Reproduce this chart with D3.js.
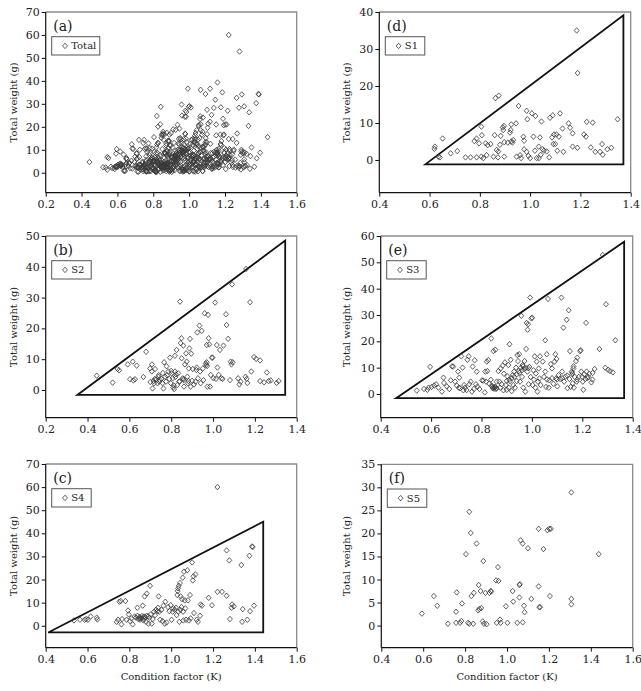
<!DOCTYPE html>
<html>
<head>
<meta charset="utf-8">
<script src="https://cdn.jsdelivr.net/npm/d3@7"></script>
<style>
body{margin:0;background:#fff;}
svg text{font-family:"DejaVu Serif",serif;fill:#222;}
</style>
</head>
<body>
<svg id="chart" width="641" height="691"></svg>
<script>
// condition factor K, total weight (g)
var s1 = [[0.621,3.6],[0.619,3.0],[0.635,0.9],[0.641,0.7],[0.652,5.8],[0.684,1.8],[0.710,2.4],[0.743,0.7],[0.763,0.7],[0.778,5.1],
	[0.787,5.8],[0.787,0.7],[0.797,4.5],[0.806,0.9],[0.806,9.0],[0.808,6.7],[0.814,0.5],[0.823,4.5],[0.827,1.3],[0.831,4.0],
	[0.843,4.3],[0.854,0.9],[0.859,6.7],[0.862,16.7],[0.867,2.7],[0.875,17.4],[0.872,0.7],[0.873,2.3],[0.880,4.1],[0.883,6.5],
	[0.891,8.8],[0.893,8.1],[0.896,9.2],[0.897,0.9],[0.897,4.8],[0.911,4.7],[0.920,7.4],[0.923,8.1],[0.925,9.6],[0.925,5.0],
	[0.930,4.7],[0.933,5.4],[0.944,9.9],[0.946,0.9],[0.954,14.6],[0.960,1.3],[0.964,0.5],[0.973,6.3],[0.976,5.2],[0.976,2.9],
	[0.986,13.3],[0.989,11.0],[0.986,2.2],[0.993,1.1],[1.000,0.5],[1.007,12.6],[1.013,6.3],[1.019,2.5],[1.021,11.9],[1.026,0.5],
	[1.035,0.5],[1.034,3.6],[1.039,6.1],[1.042,1.4],[1.045,10.4],[1.050,2.9],[1.055,2.5],[1.066,2.3],[1.076,0.7],[1.079,11.4],
	[1.087,6.1],[1.090,12.1],[1.092,4.3],[1.095,6.9],[1.100,4.3],[1.105,6.9],[1.108,2.5],[1.114,6.3],[1.119,12.6],[1.129,8.5],
	[1.132,2.2],[1.153,9.9],[1.159,8.7],[1.169,7.2],[1.169,3.6],[1.185,35.0],[1.188,3.3],[1.189,23.5],[1.214,6.9],[1.222,6.3],
	[1.225,10.3],[1.241,3.4],[1.249,10.1],[1.259,2.2],[1.278,2.2],[1.286,4.3],[1.289,1.4],[1.307,2.9],[1.323,3.3],[1.348,11.0]];

var s2 = [[0.444,4.65],[0.520,2.4],[0.543,6.8],[0.551,6.4],[0.592,8.3],[0.603,3.5],[0.616,9.2],[0.619,3.1],[0.627,3.5],[0.635,7.9],
	[0.667,4.2],[0.680,12.4],[0.699,7.0],[0.708,8.3],[0.707,6.0],[0.711,0.5],[0.715,2.9],[0.718,2.2],[0.723,6.8],[0.727,3.4],
	[0.734,2.2],[0.739,4.3],[0.743,2.7],[0.753,3.6],[0.759,2.2],[0.763,0.5],[0.766,9.0],[0.771,4.3],[0.775,2.7],[0.778,7.7],
	[0.786,6.0],[0.791,3.6],[0.794,10.5],[0.798,2.2],[0.802,5.4],[0.807,3.8],[0.810,0.8],[0.814,0.3],[0.818,11.1],[0.818,6.0],
	[0.823,5.1],[0.826,13.0],[0.829,1.6],[0.834,5.4],[0.839,2.7],[0.842,28.7],[0.845,15.2],[0.849,16.8],[0.850,10.3],[0.855,3.8],
	[0.858,3.6],[0.858,14.4],[0.861,1.1],[0.866,8.3],[0.871,11.9],[0.874,9.2],[0.877,4.3],[0.882,2.9],[0.884,7.0],[0.887,13.5],
	[0.890,16.6],[0.893,1.1],[0.896,11.8],[0.903,6.8],[0.909,1.8],[0.916,2.7],[0.922,7.3],[0.925,18.7],[0.928,3.8],[0.935,20.9],
	[0.938,6.0],[0.941,2.2],[0.946,19.2],[0.951,7.0],[0.954,3.2],[0.960,24.9],[0.967,8.1],[0.970,14.6],[0.970,9.0],[0.973,1.1],
	[0.976,24.4],[0.979,16.8],[0.982,14.8],[0.986,1.1],[0.989,4.9],[0.994,10.5],[0.998,10.5],[1.002,3.8],[1.010,28.4],[1.014,3.6],
	[1.018,14.6],[1.021,7.3],[1.027,4.9],[1.033,13.0],[1.040,3.8],[1.046,3.6],[1.050,14.4],[1.062,24.6],[1.065,21.1],[1.072,16.6],
	[1.081,3.2],[1.084,9.2],[1.088,8.3],[1.091,34.3],[1.094,9.0],[1.120,3.8],[1.126,1.8],[1.132,2.7],[1.155,4.3],[1.158,39.3],
	[1.161,3.6],[1.164,2.3],[1.177,28.5],[1.183,6.0],[1.196,10.7],[1.206,10.1],[1.225,9.6],[1.225,2.9],[1.244,2.5],[1.257,5.7],
	[1.266,2.9],[1.276,3.1],[1.304,2.3],[1.314,2.9],[0.720,3.5],[0.740,4.8],[0.760,5.5],[0.780,4.8],[0.800,6.2],[0.820,4.2],
	[0.840,2.8],[0.860,3.2],[0.880,2.2],[0.900,3.0],[0.920,6.5],[0.965,8.6],[0.972,7.8],[0.700,2.6],[0.745,3.3],[0.812,1.5]];

var s3 = [[0.543,1.3],[0.572,1.9],[0.585,1.6],[0.596,10.3],[0.590,2.4],[0.602,2.7],[0.612,3.2],[0.620,3.7],[0.629,2.4],[0.643,0.9],
	[0.649,6.2],[0.651,4.2],[0.662,2.9],[0.672,1.9],[0.678,5.2],[0.683,10.5],[0.688,10.4],[0.695,4.7],[0.702,3.2],[0.707,8.5],
	[0.710,2.4],[0.712,6.2],[0.715,2.2],[0.720,14.3],[0.725,10.0],[0.728,1.4],[0.731,3.4],[0.735,2.4],[0.741,1.5],[0.744,13.0],
	[0.749,14.3],[0.752,3.7],[0.757,4.7],[0.762,0.9],[0.765,10.4],[0.770,1.9],[0.773,12.8],[0.778,3.7],[0.781,8.5],[0.784,2.8],
	[0.792,1.9],[0.802,5.2],[0.807,5.1],[0.813,0.6],[0.815,8.5],[0.818,4.7],[0.821,12.3],[0.823,8.7],[0.827,12.9],[0.831,3.9],
	[0.837,5.4],[0.839,21.1],[0.842,2.9],[0.844,2.2],[0.847,16.3],[0.852,2.7],[0.855,16.8],[0.858,1.9],[0.860,4.7],[0.867,8.7],
	[0.871,4.7],[0.874,2.4],[0.876,9.7],[0.880,3.7],[0.884,10.8],[0.887,1.4],[0.889,7.7],[0.893,12.0],[0.897,3.4],[0.900,1.6],
	[0.903,6.7],[0.907,11.0],[0.908,2.4],[0.911,18.9],[0.913,4.9],[0.916,13.0],[0.920,1.1],[0.924,7.2],[0.926,3.4],[0.929,8.5],
	[0.933,2.4],[0.937,10.0],[0.940,4.9],[0.942,14.8],[0.945,12.5],[0.948,8.7],[0.950,15.1],[0.953,4.7],[0.956,10.0],[0.958,29.7],
	[0.961,6.5],[0.963,11.0],[0.966,2.4],[0.969,9.5],[0.971,12.5],[0.974,0.9],[0.977,17.1],[0.979,27.0],[0.982,8.5],[0.983,24.4],
	[0.985,26.5],[0.987,3.7],[0.990,10.3],[0.993,36.6],[0.995,6.5],[0.998,28.7],[1.001,29.0],[1.003,3.4],[1.006,9.0],[1.008,5.4],
	[1.011,14.3],[1.014,2.4],[1.016,7.8],[1.019,12.3],[1.022,0.9],[1.024,4.7],[1.027,9.7],[1.030,5.9],[1.032,14.3],[1.035,3.4],
	[1.043,12.3],[1.048,6.5],[1.053,8.5],[1.053,20.4],[1.056,2.7],[1.059,15.1],[1.064,36.1],[1.067,2.4],[1.069,5.2],[1.075,11.3],
	[1.080,9.7],[1.085,3.9],[1.090,12.3],[1.093,15.1],[1.096,5.9],[1.098,13.3],[1.101,2.9],[1.106,7.2],[1.112,5.7],[1.117,36.6],
	[1.120,8.5],[1.125,25.2],[1.128,4.7],[1.133,6.6],[1.138,28.2],[1.141,2.2],[1.146,31.8],[1.149,5.7],[1.151,16.3],[1.154,2.7],
	[1.158,8.5],[1.162,4.1],[1.165,9.7],[1.167,2.4],[1.170,6.5],[1.175,12.5],[1.178,4.7],[1.180,13.8],[1.186,6.5],[1.191,16.3],
	[1.194,16.6],[1.196,8.5],[1.202,4.7],[1.204,1.6],[1.207,7.5],[1.212,5.7],[1.215,27.0],[1.217,8.5],[1.223,6.5],[1.228,7.7],
	[1.236,4.4],[1.241,8.0],[1.249,9.5],[1.268,17.1],[1.281,52.8],[1.291,10.0],[1.294,34.1],[1.302,9.2],[1.310,8.7],[1.321,8.2],
	[1.331,20.4],[0.845,2.5],[0.850,2.0],[0.855,2.6],[0.840,3.2],[0.860,2.2],[0.940,7.5],[0.950,8.0],[0.960,9.0],[0.965,10.5],
	[0.975,10.0],[0.985,9.8],[0.930,6.5],[0.920,6.0],[0.910,5.5],[0.900,5.0],[1.060,5.5],[1.080,6.0],[1.100,5.5],[1.120,6.0],
	[1.140,7.0],[1.160,8.0],[1.180,5.5],[1.200,6.5],[1.220,6.0],[1.240,5.5],[1.160,7.5],[1.165,10.5]];

var s4 = [[0.535,2.3],[0.564,2.6],[0.586,2.6],[0.593,2.9],[0.602,2.6],[0.615,4.0],[0.644,3.5],[0.647,2.7],[0.739,1.7],[0.746,2.6],
	[0.752,10.4],[0.759,10.7],[0.762,0.6],[0.765,2.9],[0.781,10.7],[0.787,2.6],[0.794,6.6],[0.797,4.9],[0.803,2.0],[0.810,3.2],
	[0.816,0.6],[0.825,4.0],[0.832,3.5],[0.838,7.8],[0.838,4.3],[0.843,2.9],[0.848,3.8],[0.851,2.6],[0.859,3.2],[0.864,8.7],
	[0.867,2.3],[0.870,4.0],[0.873,12.7],[0.880,1.7],[0.883,13.9],[0.883,4.3],[0.891,0.9],[0.896,3.5],[0.899,17.3],[0.902,4.9],
	[0.907,0.9],[0.912,2.9],[0.918,6.1],[0.923,4.6],[0.927,6.9],[0.934,6.3],[0.937,7.8],[0.940,12.7],[0.943,6.1],[0.947,2.6],
	[0.953,6.9],[0.959,2.0],[0.963,8.7],[0.969,0.9],[0.972,10.4],[0.978,1.4],[0.985,8.1],[0.991,6.3],[0.998,8.9],[1.002,2.6],
	[1.007,6.1],[1.010,7.5],[1.017,6.9],[1.023,7.8],[1.026,4.6],[1.029,13.3],[1.031,15.0],[1.033,16.2],[1.034,6.1],[1.036,17.3],
	[1.039,1.7],[1.042,18.5],[1.044,6.9],[1.045,12.7],[1.049,8.1],[1.052,11.5],[1.055,20.8],[1.057,6.1],[1.058,2.3],[1.061,23.4],
	[1.065,11.0],[1.068,7.5],[1.071,2.6],[1.077,24.0],[1.080,11.0],[1.084,2.3],[1.090,13.3],[1.093,3.2],[1.100,27.4],[1.103,19.6],
	[1.106,21.4],[1.109,5.5],[1.116,22.2],[1.122,2.6],[1.128,1.7],[1.138,4.3],[1.141,9.2],[1.147,8.7],[1.179,12.1],[1.195,8.9],
	[1.221,60.0],[1.221,14.7],[1.243,14.7],[1.265,13.0],[1.265,32.6],[1.278,28.3],[1.281,2.9],[1.288,7.8],[1.291,9.2],[1.300,8.4],
	[1.335,26.3],[1.339,1.7],[1.342,7.2],[1.364,2.6],[1.374,30.3],[1.377,6.3],[1.386,34.3],[1.390,34.1],[1.396,8.7],
	[0.850,3.2],[0.860,4.2],[0.870,3.0],[0.875,3.8],[0.890,4.0]];

var s5 = [[0.594,2.6],[0.651,6.4],[0.667,4.3],[0.718,0.4],[0.757,3.0],[0.757,0.6],[0.760,7.2],[0.776,0.6],[0.782,1.0],[0.785,4.8],
	[0.804,15.5],[0.814,0.6],[0.820,24.7],[0.820,0.4],[0.827,20.1],[0.830,6.4],[0.839,0.4],[0.842,7.1],[0.855,17.8],[0.862,3.3],
	[0.865,8.8],[0.868,3.6],[0.874,7.5],[0.877,3.8],[0.884,0.9],[0.887,14.0],[0.890,0.4],[0.897,7.1],[0.903,0.3],[0.916,7.1],
	[0.922,7.5],[0.925,7.4],[0.948,9.8],[0.951,0.6],[0.957,12.7],[0.960,9.7],[0.967,1.3],[0.970,0.6],[0.995,4.2],[1.002,0.6],
	[1.027,7.5],[1.030,5.2],[1.049,0.6],[1.059,8.8],[1.059,6.1],[1.062,9.0],[1.065,18.5],[1.075,17.8],[1.075,0.7],[1.081,4.3],
	[1.084,2.9],[1.100,16.8],[1.116,5.8],[1.151,21.0],[1.151,8.5],[1.154,4.0],[1.158,4.0],[1.174,16.6],[1.193,20.7],[1.202,21.0],
	[1.205,6.4],[1.209,21.0],[1.307,28.9],[1.307,5.8],[1.307,4.6],[1.438,15.5]];

// all sites together
var total = s1.concat(s2, s3, s4, s5);

// boundary triangles [K, W]
var triS1 = [[0.583,-1.2],[1.371,39.1],[1.371,-1.2]];
var triS2 = [[0.351,-1.6],[1.345,48.5],[1.345,-1.6]];
var triS3 = [[0.461,-1.6],[1.366,57.8],[1.366,-1.6]];
var triS4 = [[0.412,-2.9],[1.440,45.0],[1.440,-2.9]];

var xTicksA = [0.2,0.4,0.6,0.8,1.0,1.2,1.4,1.6];
var xTicksB = [0.2,0.4,0.6,0.8,1.0,1.2,1.4];
var xTicksD = [0.4,0.6,0.8,1.0,1.2,1.4];
var xTicksC = [0.4,0.6,0.8,1.0,1.2,1.4,1.6];
var yTicksA = [0,10,20,30,40,50,60,70];
var yTicksD = [0,10,20,30,40];
var yTicksB = [0,10,20,30,40,50];
var yTicksE = [0,10,20,30,40,50,60];
var yTicksF = [0,5,10,15,20,25,30,35];

var panels = [
	{tag:"(a)", name:"Total", data:total, tri:null,  xd:[0.2,1.6], yd:[-8.7,70],  xt:xTicksA, yt:yTicksA, b:[45.7,296.7,12,192.7], col:0, xlab:false},
	{tag:"(d)", name:"S1",    data:s1,    tri:triS1, xd:[0.4,1.4], yd:[-8.85,40], xt:xTicksD, yt:yTicksD, b:[379.3,630.7,12,192.7], col:1, xlab:false},
	{tag:"(b)", name:"S2",    data:s2,    tri:triS2, xd:[0.2,1.4], yd:[-9,50],    xt:xTicksB, yt:yTicksB, b:[45.7,296.7,236,417.7], col:0, xlab:false},
	{tag:"(e)", name:"S3",    data:s3,    tri:triS3, xd:[0.4,1.4], yd:[-9,60],    xt:xTicksD, yt:yTicksE, b:[380.7,632.7,236,417.7], col:1, xlab:false},
	{tag:"(c)", name:"S4",    data:s4,    tri:triS4, xd:[0.4,1.6], yd:[-9.5,70],  xt:xTicksC, yt:yTicksA, b:[45.7,296.7,464,647.7], col:0, xlab:true},
	{tag:"(f)", name:"S5",    data:s5,    tri:null,  xd:[0.4,1.6], yd:[-4.8,35],  xt:xTicksC, yt:yTicksF, b:[381.3,632.7,464.3,647.7], col:1, xlab:true}
];

var diamond = {
	draw: function(ctx, size){
		var r = Math.sqrt(size)/2;
		ctx.moveTo(0,-r*1.12);
		ctx.lineTo(r,0);
		ctx.lineTo(0,r*1.12);
		ctx.lineTo(-r,0);
		ctx.closePath();
	}
};
var sym = d3.symbol().type(diamond).size(24);

var svg = d3.select("#chart");

panels.forEach(function(p){
	var L = p.b[0], R = p.b[1], T = p.b[2], B = p.b[3];
	var x = d3.scaleLinear().domain(p.xd).range([L,R]);
	var y = d3.scaleLinear().domain(p.yd).range([B,T]);
	var g = svg.append("g");

	// top/right frame in grey
	g.append("path")
		.attr("d","M"+L+","+T+"H"+R+"V"+B)
		.attr("fill","none").attr("stroke","#8a8a8a").attr("stroke-width",1.3);

	var ax = g.append("g").attr("transform","translate(0,"+B+")")
		.call(d3.axisBottom(x).tickValues(p.xt).tickFormat(d3.format(".1f")).tickSize(4).tickSizeOuter(0).tickPadding(4));
	var ay = g.append("g").attr("transform","translate("+L+",0)")
		.call(d3.axisLeft(y).tickValues(p.yt).tickFormat(d3.format("d")).tickSize(4).tickSizeOuter(0).tickPadding(2));
	[ax,ay].forEach(function(a){
		a.selectAll("text").attr("font-family","DejaVu Serif").attr("font-size",11).attr("fill","#222");
		a.selectAll("line").attr("stroke","#111");
		a.select(".domain").attr("stroke","#111").attr("stroke-width",1.2);
	});
	ay.select(".domain").attr("d","M0,"+T+"V"+B);
	ax.select(".domain").attr("d","M"+L+",0H"+R);

	if(p.tri){
		var line = d3.line().x(function(d){return x(d[0]);}).y(function(d){return y(d[1]);});
		g.append("path").attr("d",line(p.tri)+"Z")
			.attr("fill","none").attr("stroke","#111").attr("stroke-width",1.8).attr("stroke-linejoin","miter");
	}

	g.append("g").selectAll("path").data(p.data).enter().append("path")
		.attr("transform",function(d){return "translate("+x(d[0])+","+y(d[1])+")";})
		.attr("d",sym)
		.attr("fill","none").attr("stroke","#3a3a3a").attr("stroke-width",0.8);

	g.append("text").attr("x",L+7.5).attr("y",T+18.5)
		.attr("font-family","Liberation Sans, Arial, sans-serif").attr("font-size",14).attr("fill","#222")
		.text(p.tag);

	// legend
	var lg = g.append("g").attr("transform","translate("+(L+6)+","+(T+24.7)+")");
	var box = lg.append("rect").attr("height",18.3).attr("fill","#fff").attr("stroke","#555").attr("stroke-width",1);
	lg.append("path").attr("transform","translate(13.3,9.2)").attr("d",sym)
		.attr("fill","none").attr("stroke","#3a3a3a").attr("stroke-width",0.8);
	var lt = lg.append("text").attr("x",19.5).attr("y",12.8).attr("font-size",10).text(p.name);
	var tw = lt.node().getComputedTextLength();
	box.attr("width",Math.max(39.5,tw+23));

	// axis titles
	var yx = p.col === 0 ? 16.5 : 350;
	g.append("text").attr("transform","translate("+yx+","+((T+B)/2)+") rotate(-90)")
		.attr("text-anchor","middle").attr("font-size",10).text("Total weight (g)");
	if(p.xlab){
		g.append("text").attr("x",(L+R)/2).attr("y",680)
			.attr("text-anchor","middle").attr("font-size",10).text("Condition factor (K)");
	}
});
</script>
</body>
</html>
